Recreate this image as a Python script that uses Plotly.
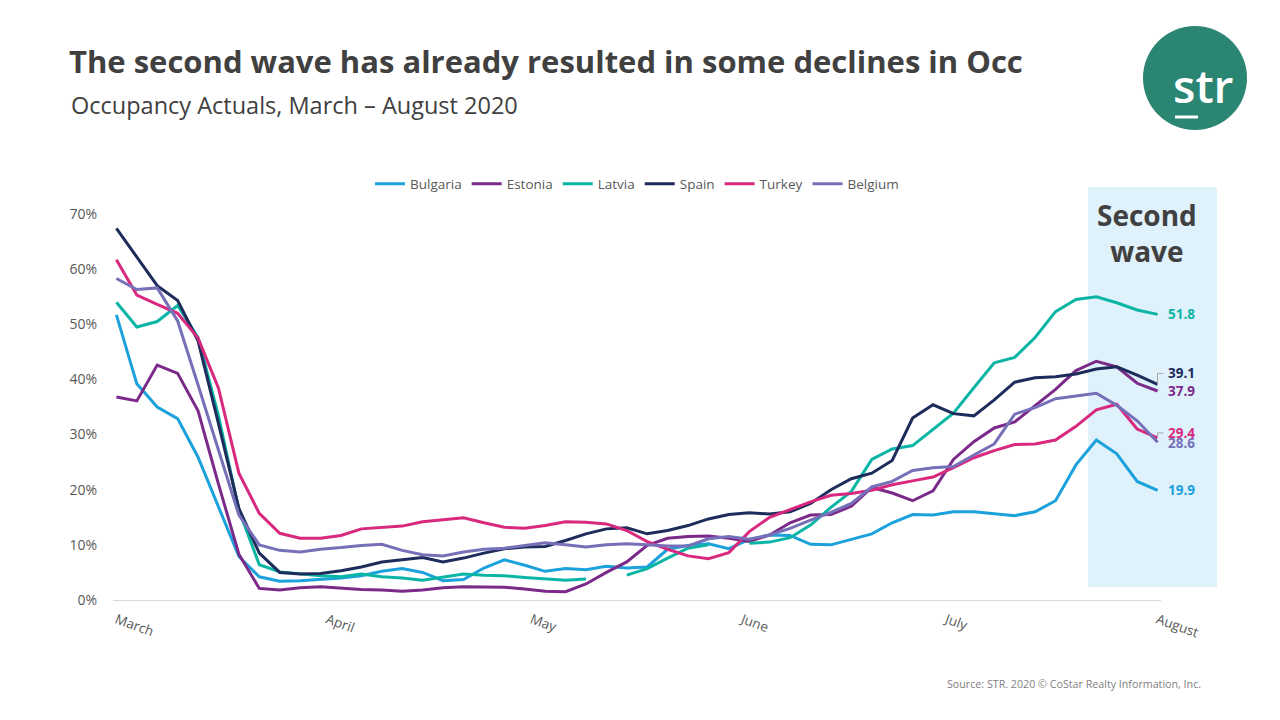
import plotly.graph_objects as go
import pandas as pd

# ---------------- data (occupancy %, sampled every 3 days from 1 March 2020) ----------------
start_date = "2020-03-01"
n_points = 52
step = "3D"

bulgaria = [51.7, 39.2, 35.0, 32.9, 25.9, 16.8, 7.9, 4.2, 3.4, 3.5, 3.7, 4.0, 4.4, 5.2, 5.7, 5.0,
            3.5, 3.7, 5.8, 7.3, 6.3, 5.2, 5.7, 5.5, 6.1, 5.8, 6.0, 9.2, 9.9, 10.2, 9.3, 11.0,
            11.8, 11.7, 10.1, 10.0, 11.0, 12.0, 14.0, 15.5, 15.4, 16.0, 16.0, 15.6, 15.3, 16.0,
            18.0, 24.5, 29.0, 26.5, 21.5, 19.9]
estonia = [36.8, 36.1, 42.6, 41.1, 34.3, 21.0, 8.3, 2.1, 1.8, 2.2, 2.4, 2.1, 1.9, 1.8, 1.6, 1.8,
           2.2, 2.4, 2.4, 2.3, 2.0, 1.6, 1.5, 2.9, 5.0, 6.9, 9.9, 11.2, 11.5, 11.6, 11.2, 10.6,
           11.8, 14.0, 15.4, 15.5, 17.0, 20.4, 19.4, 18.0, 19.8, 25.5, 28.7, 31.2, 32.3, 35.3,
           38.2, 41.6, 43.3, 42.3, 39.3, 37.9]
latvia = [54.0, 49.5, 50.5, 53.4, 47.6, 33.4, 16.3, 6.4, 5.1, 4.7, 4.4, 4.2, 4.7, 4.2, 4.0, 3.6,
          4.2, 4.7, 4.5, 4.4, 4.1, 3.9, 3.6, 3.8, None, 4.5, 5.7, 7.6, 9.4, 10.0, None, 10.3,
          10.5, 11.3, 13.6, 16.8, 19.7, 25.5, 27.4, 28.0, 30.9, 33.9, 38.5, 43.0, 44.0, 47.6,
          52.3, 54.5, 55.0, 53.9, 52.6, 51.8]
spain = [67.4, 62.2, 57.0, 54.3, 47.0, 32.0, 16.6, 8.5, 5.0, 4.7, 4.8, 5.3, 6.0, 6.9, 7.3, 7.7,
         6.9, 7.6, 8.5, 9.3, 9.6, 9.7, 10.8, 12.0, 12.9, 13.1, 12.0, 12.6, 13.5, 14.7, 15.5, 15.8,
         15.6, 16.0, 17.5, 20.0, 22.0, 23.0, 25.3, 33.0, 35.4, 33.8, 33.4, 36.3, 39.5, 40.3,
         40.5, 41.0, 41.9, 42.3, 40.8, 39.1]
turkey = [61.7, 55.3, 53.6, 52.0, 47.5, 38.4, 23.0, 15.7, 12.1, 11.2, 11.2, 11.7, 12.9, 13.2, 13.4,
          14.2, 14.5, 14.9, 14.0, 13.2, 13.0, 13.5, 14.2, 14.1, 13.8, 12.6, 10.6, 9.2, 8.0, 7.5,
          8.6, 12.4, 15.0, 16.4, 17.8, 19.0, 19.3, 19.9, 20.9, 21.6, 22.3, 24.0, 25.8, 27.1,
          28.2, 28.3, 29.0, 31.5, 34.5, 35.5, 31.0, 29.4]
belgium = [58.3, 56.3, 56.6, 50.6, 39.0, 27.0, 15.4, 10.0, 9.0, 8.7, 9.2, 9.5, 9.9, 10.1, 9.0, 8.2,
           8.0, 8.7, 9.2, 9.4, 9.9, 10.4, 10.0, 9.6, 10.0, 10.2, 10.0, 9.8, 9.8, 11.1, 11.5, 11.0,
           11.8, 13.0, 14.5, 15.9, 17.5, 20.5, 21.5, 23.5, 24.0, 24.2, 26.3, 28.3, 33.7, 34.9,
           36.5, 37.0, 37.5, 35.3, 32.5, 28.6]

series_names = ["Bulgaria", "Estonia", "Latvia", "Spain", "Turkey", "Belgium"]
series_values = [bulgaria, estonia, latvia, spain, turkey, belgium]
series_colors = ["#1ba1db", "#7b2a8a", "#0bb5a5", "#1d2c5b", "#d8297f", "#7670b8"]

month_ticks = ["2020-03-01", "2020-04-01", "2020-05-01", "2020-06-01", "2020-07-01", "2020-08-01"]
month_labels = ["March", "April", "May", "June", "July", "August"]
y_ticks = [0, 10, 20, 30, 40, 50, 60, 70]
y_labels = [f"{v}%" for v in y_ticks]

dates = pd.date_range(start_date, periods=n_points, freq=step)

# ---------------- layout helpers ----------------
# page body has an 8px margin, so the figure is 8px smaller and everything shifted
OFF = 8
W, H = 1280 - OFF, 720 - OFF
L, R, T, B = 113, 1161, 214, 600      # plot area in screen pixels
def px(x):
    return (x - L) / (R - L)
def py(y):
    return (B - y) / (B - T)
unit = (B - T) / 70.0  # pixels per percentage point

FONT = "Open Sans"
GREY = "#595959"
DARK = "#404040"

fig = go.Figure()
for name, vals, col in zip(series_names, series_values, series_colors):
    fig.add_trace(go.Scatter(x=dates, y=vals, mode="lines", name=name,
                             line=dict(color=col, width=3), connectgaps=False))

shapes = []
annotations = []

# Second wave band (drawn below the lines)
shapes.append(dict(type="rect", xref="paper", yref="paper", x0=px(1088), x1=px(1217),
                   y0=py(587), y1=py(187), fillcolor="#dff1fb", line=dict(width=0), layer="below"))
annotations.append(dict(xref="paper", yref="paper", x=px(1147), y=py(233), text="<b>Second<br>wave</b>",
                        showarrow=False, xanchor="center", yanchor="middle",
                        font=dict(family=FONT, size=28, color=DARK), align="center"))

# end value labels
label_shift = {"Spain": 11, "Turkey": 5, "Belgium": -1}
for name, vals, col in zip(series_names, series_values, series_colors):
    v = vals[-1]
    annotations.append(dict(xref="paper", yref="y", x=px(1166), y=v, yshift=label_shift.get(name, 0),
                            text=f"<b>{v:.1f}</b>", showarrow=False, xanchor="left", yanchor="middle",
                            font=dict(family=FONT, size=13.5, color=col)))
    if name in ("Spain", "Turkey"):
        y_end = py(B - v * unit)
        y_lab = py(B - v * unit - label_shift[name])
        shapes.append(dict(type="path", xref="paper", yref="paper",
                           path=f"M {px(1157.5)} {y_end} L {px(1157.5)} {y_lab} L {px(1163.5)} {y_lab}",
                           line=dict(color="#a6a6a6", width=1)))

# subtitle
annotations.append(dict(xref="paper", yref="paper", x=px(69), y=py(105), text="Occupancy Actuals, March – August 2020",
                        showarrow=False, xanchor="left", yanchor="middle",
                        font=dict(family=FONT, size=23.5, color=DARK)))
# source
annotations.append(dict(xref="paper", yref="paper", x=px(1203), y=py(684),
                        text="Source: STR. 2020 © CoStar Realty Information, Inc.",
                        showarrow=False, xanchor="right", yanchor="middle",
                        font=dict(family=FONT, size=10.7, color="#7f7f7f")))
# logo
shapes.append(dict(type="circle", xref="paper", yref="paper", x0=px(1143), x1=px(1247),
                   y0=py(130), y1=py(26), fillcolor="#2b8573", line=dict(width=0)))
annotations.append(dict(xref="paper", yref="paper", x=px(1203), y=py(85), text="str",
                        showarrow=False, xanchor="center", yanchor="middle",
                        font=dict(family=FONT, size=46, color="white", weight=600)))
shapes.append(dict(type="line", xref="paper", yref="paper", x0=px(1175), x1=px(1198),
                   y0=py(117), y1=py(117), line=dict(color="white", width=3)))

fig.update_layout(
    width=W, height=H,
    paper_bgcolor="white", plot_bgcolor="white",
    margin=dict(l=L - OFF, r=W - (R - OFF), t=T - OFF, b=H - (B - OFF)),
    title=dict(text="<b>The second wave has already resulted in some declines in Occ</b>",
               xref="container", yref="container", x=(69 - OFF) / W, y=1 - (62 - OFF) / H,
               xanchor="left", yanchor="middle",
               font=dict(family=FONT, size=31, color=DARK)),
    font=dict(family=FONT, size=13, color=GREY),
    legend=dict(orientation="h", x=0.5, xanchor="center", y=py(184), yanchor="middle",
                font=dict(family=FONT, size=13.5, color=GREY), bgcolor="rgba(0,0,0,0)"),
    xaxis=dict(type="date", range=["2020-02-29 12:00", "2020-08-01 12:00"],
               tickvals=month_ticks, ticktext=month_labels, tickangle=20,
               showgrid=False, zeroline=False, showline=True, linecolor="#d9d9d9", linewidth=1,
               ticks="", ticklabelstandoff=6, tickfont=dict(family=FONT, size=13.5, color=GREY)),
    yaxis=dict(range=[0, 70], tickvals=y_ticks, ticktext=y_labels, showgrid=False, zeroline=False,
               showline=False, ticks="", ticklabelstandoff=15,
               tickfont=dict(family=FONT, size=14, color=GREY)),
    shapes=shapes, annotations=annotations,
)

fig.write_html("out.html")
